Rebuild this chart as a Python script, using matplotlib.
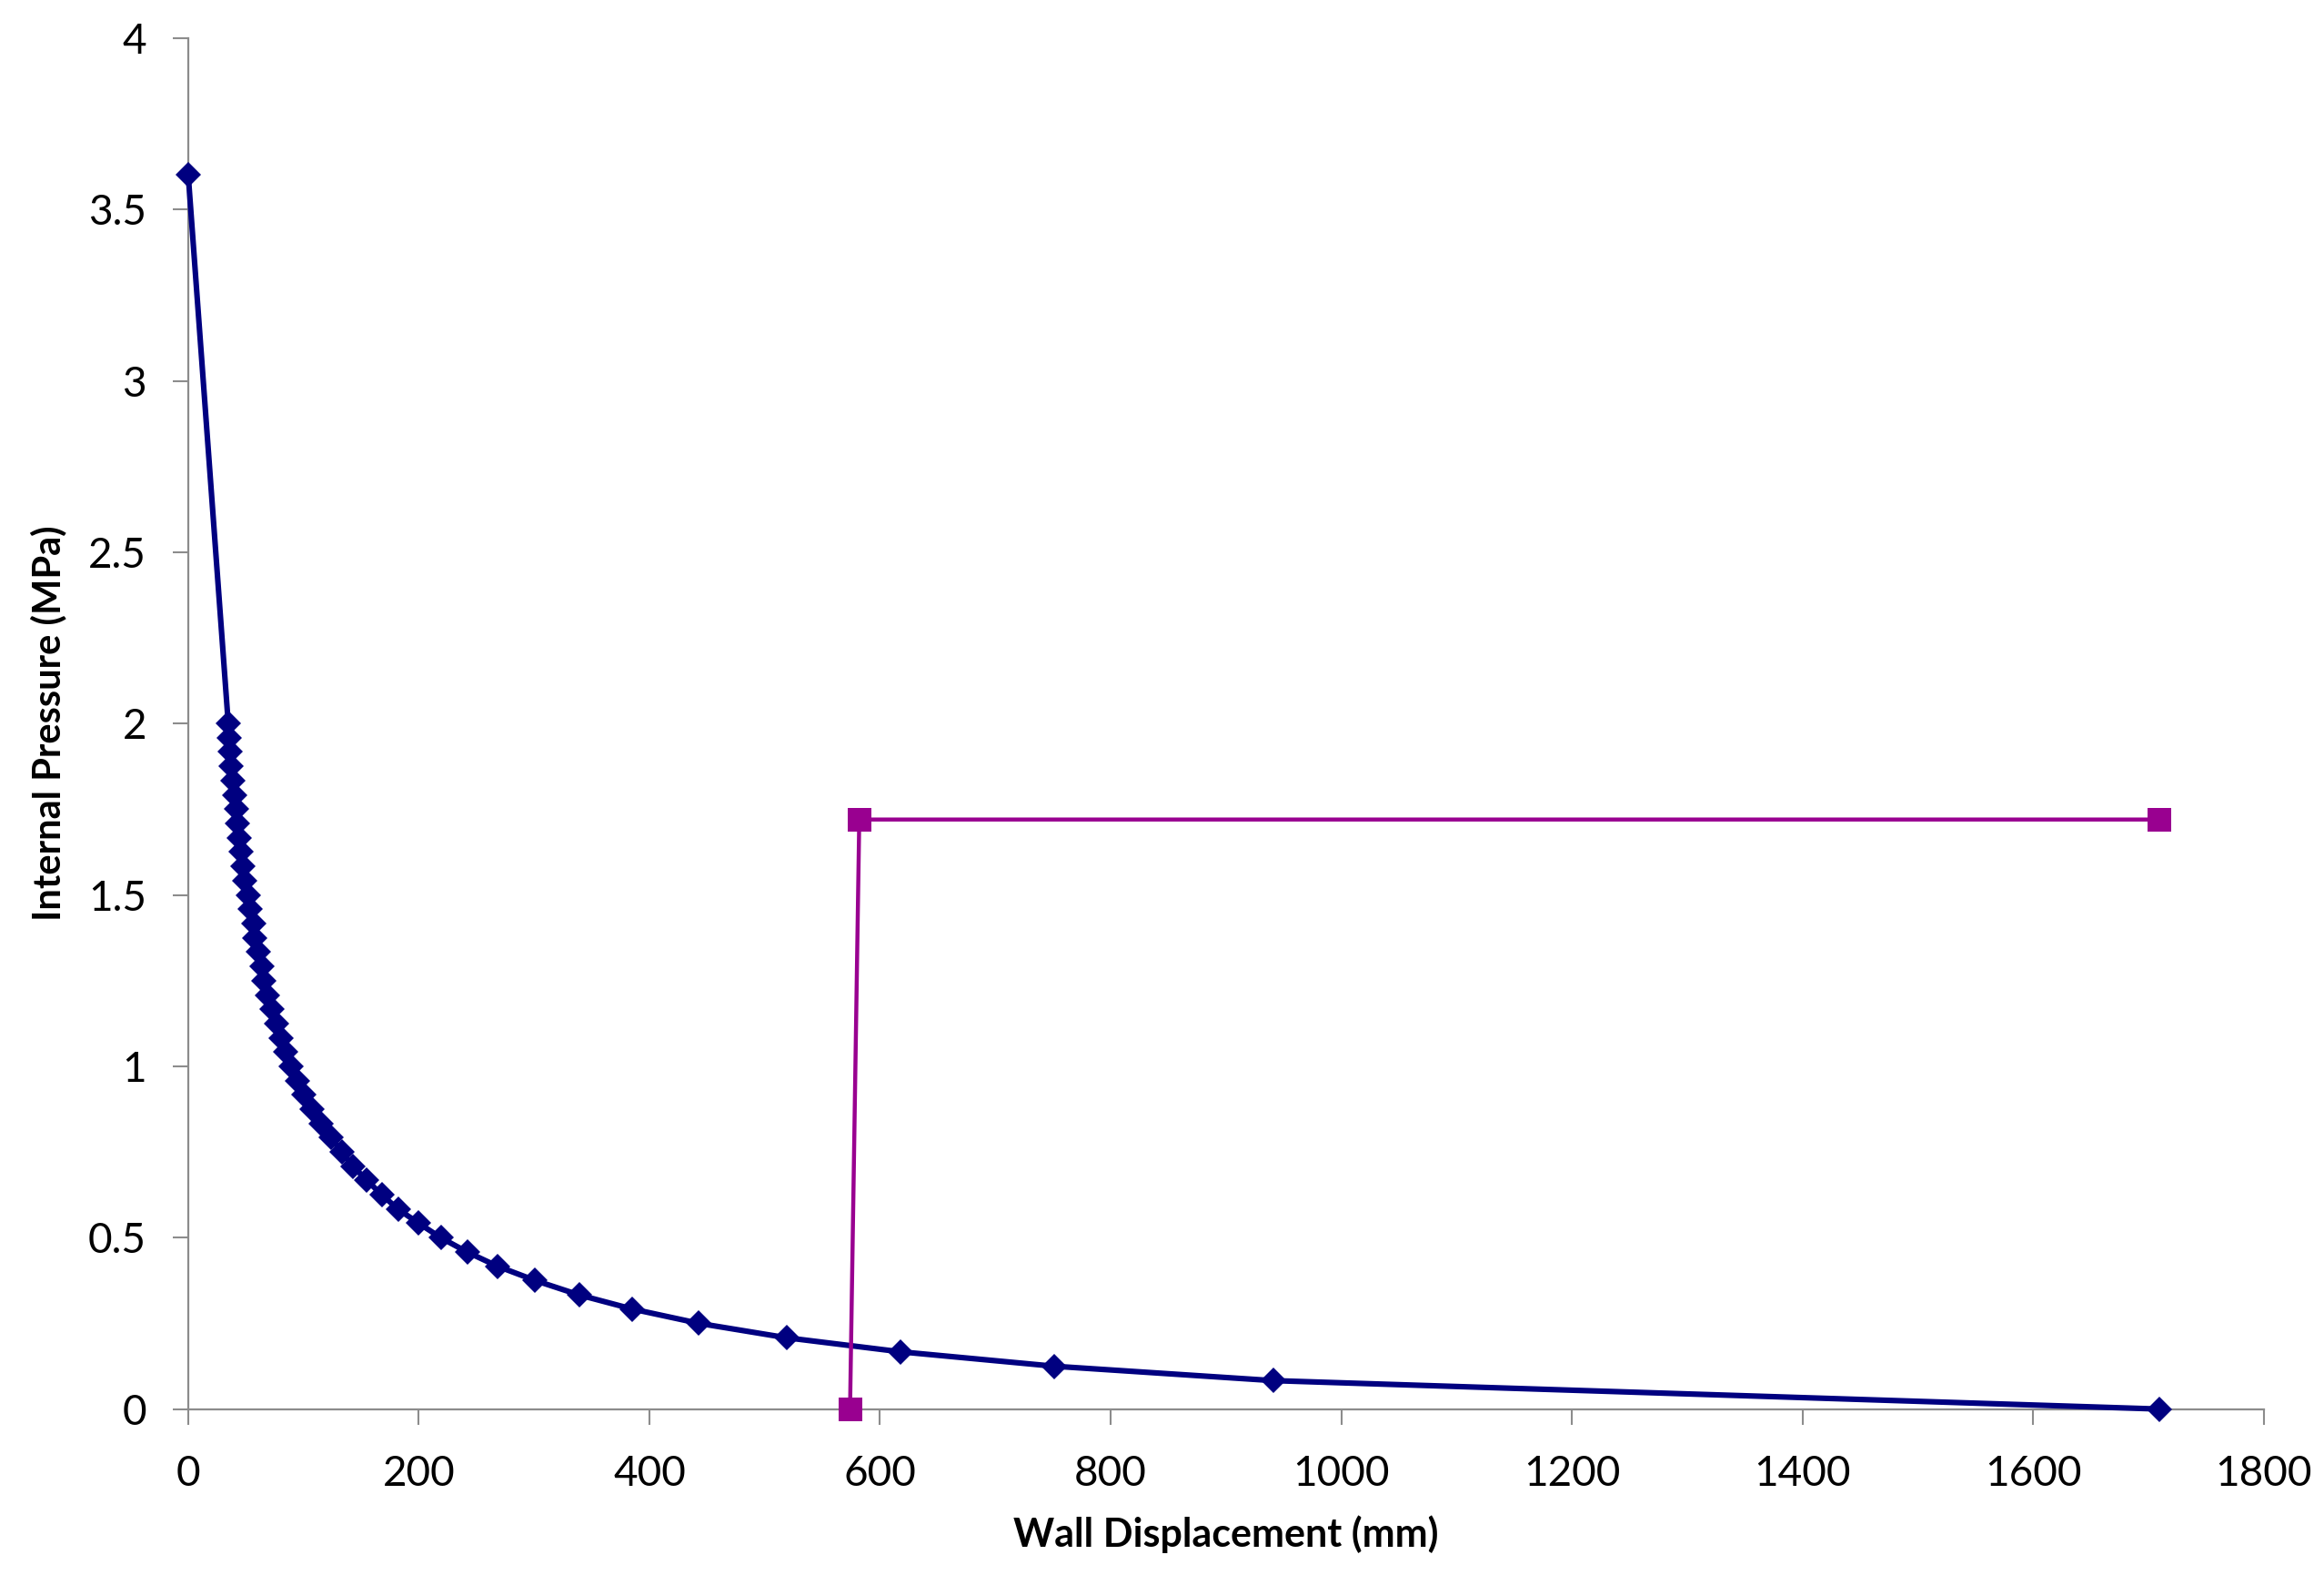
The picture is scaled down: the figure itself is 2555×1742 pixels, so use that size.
"""Internal pressure vs wall displacement, with the capacity step line."""

import matplotlib.pyplot as plt

# ground reaction curve (blue diamonds)
WALL_DISP = [
    0, 34.7, 35.5, 36.3, 37.4, 38.7, 40.3, 41.6, 42.6, 44.2, 46.0,
    47.4, 49.2, 52.1, 54.0, 56.6, 57.9, 60.5, 63.7, 65.8, 68.9,
    72.4, 76.3, 80.3, 84.7, 89.5, 94.5, 100.5, 107, 115, 124,
    133, 143, 155, 168, 182, 200, 219, 242, 268, 301,
    339, 385, 443, 519, 618, 751, 941, 1710,
]
PRESSURE = [
    3.6, 2.0, 1.958, 1.917, 1.875, 1.833, 1.792, 1.75, 1.708, 1.667, 1.625,
    1.583, 1.542, 1.5, 1.458, 1.417, 1.375, 1.333, 1.292, 1.25, 1.208,
    1.167, 1.125, 1.083, 1.042, 1.0, 0.958, 0.917, 0.875, 0.833, 0.792,
    0.75, 0.708, 0.667, 0.625, 0.583, 0.542, 0.5, 0.458, 0.417, 0.375,
    0.333, 0.292, 0.25, 0.208, 0.167, 0.125, 0.083, 0.0,
]

# support line (magenta squares)
SUPPORT_DISP = [574, 582, 1710]
SUPPORT_PRESSURE = [0.0, 1.72, 1.72]

X_TICKS = list(range(0, 2000, 200))
Y_TICKS = [0, 0.5, 1, 1.5, 2, 2.5, 3, 3.5, 4]

BLUE = "#000080"
MAGENTA = "#990090"
AXIS_GREY = "#8c8c8c"

plt.rcParams["font.family"] = ["Lato", "DejaVu Sans"]

fig = plt.figure(figsize=(25.55, 17.42), dpi=100)
ax = fig.add_axes([0.081, 0.111, 0.893, 0.865])

ax.plot(WALL_DISP, PRESSURE, color=BLUE, linewidth=4.4, marker="D",
        markersize=14, markeredgewidth=0, zorder=3, clip_on=False)
ax.plot(SUPPORT_DISP, SUPPORT_PRESSURE, color=MAGENTA, linewidth=3.2,
        marker="s", markersize=19, markeredgewidth=0, zorder=4, clip_on=False)

ax.set_xlim(0, 1800)
ax.set_ylim(0, 4)
ax.set_xticks(X_TICKS)
ax.set_yticks(Y_TICKS)
ax.set_yticklabels(["0", "0.5", "1", "1.5", "2", "2.5", "3", "3.5", "4"])

for side in ("top", "right"):
    ax.spines[side].set_visible(False)
for side in ("left", "bottom"):
    ax.spines[side].set_color(AXIS_GREY)
    ax.spines[side].set_linewidth(1.6)
    ax.spines[side].set_zorder(1)

ax.tick_params(axis="both", direction="out", length=12, width=1.5,
               color=AXIS_GREY, labelsize=33, labelcolor="black")
ax.tick_params(axis="x", pad=24)
ax.tick_params(axis="y", pad=21)

ax.set_xlabel("Wall Displacement (mm)", fontsize=31, fontweight="bold", labelpad=18)
ax.set_ylabel("Internal Pressure (MPa)", fontsize=30, fontweight="bold", labelpad=17)

fig.savefig("out.png", dpi=100)
